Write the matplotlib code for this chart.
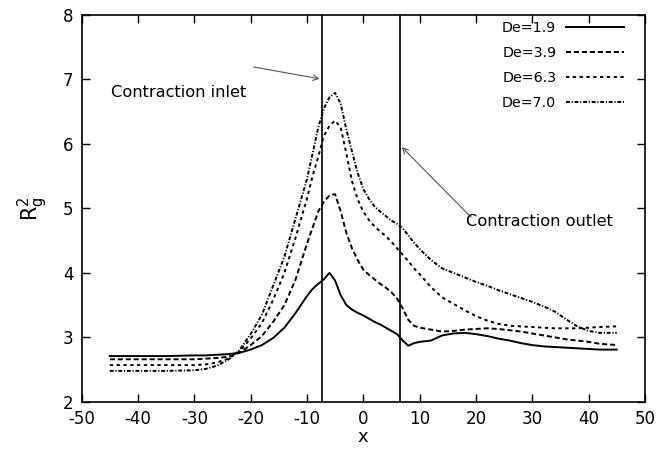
import matplotlib
matplotlib.use("Agg")
import matplotlib.pyplot as plt

plt.rcParams['font.family'] = ['DejaVu Sans']
plt.rcParams['mathtext.default'] = 'regular'
plt.rcParams['axes.unicode_minus'] = False

x = [-45, -40, -35, -30, -28, -26, -24, -22, -20, -18, -16, -14, -12, -10, -9, -8, -7,
     -6, -5, -4, -3, -2, -1, 0, 1, 2, 3, 4, 5, 6, 7, 8, 9, 10, 12, 14, 16, 18, 20,
     22, 24, 26, 28, 30, 32, 34, 36, 38, 40, 42, 45]

de19 = [2.71, 2.71, 2.71, 2.72, 2.72, 2.73, 2.74, 2.76, 2.81, 2.88, 2.99, 3.15, 3.38, 3.64, 3.75, 3.83, 3.90,
        4.00, 3.88, 3.65, 3.50, 3.43, 3.38, 3.34, 3.29, 3.24, 3.20, 3.15, 3.10, 3.05, 2.95, 2.87, 2.91, 2.93, 2.95, 3.03, 3.06, 3.07, 3.05,
        3.02, 2.98, 2.95, 2.91, 2.88, 2.86, 2.85, 2.84, 2.83, 2.82, 2.81, 2.81]

de39 = [2.66, 2.66, 2.66, 2.66, 2.67, 2.68, 2.70, 2.76, 2.88, 3.02, 3.24, 3.50, 3.90, 4.45, 4.70, 4.95, 5.10,
        5.20, 5.22, 4.95, 4.62, 4.38, 4.20, 4.05, 3.97, 3.90, 3.83, 3.77, 3.70, 3.60, 3.45, 3.27, 3.18, 3.15, 3.12, 3.09, 3.10, 3.12, 3.13,
        3.14, 3.13, 3.11, 3.09, 3.06, 3.03, 3.00, 2.97, 2.95, 2.93, 2.90, 2.88]

de63 = [2.57, 2.57, 2.57, 2.57, 2.58, 2.61, 2.67, 2.78, 2.98, 3.22, 3.58, 4.00, 4.55, 5.15, 5.50, 5.80, 6.12,
        6.28, 6.36, 6.25, 5.85, 5.42, 5.14, 4.95, 4.82, 4.72, 4.64, 4.57, 4.48, 4.38, 4.28, 4.18, 4.07, 3.98, 3.78, 3.62, 3.52, 3.42, 3.33,
        3.26, 3.21, 3.18, 3.17, 3.16, 3.15, 3.14, 3.14, 3.14, 3.15, 3.16, 3.17]

de70 = [2.48, 2.48, 2.48, 2.49, 2.51, 2.56, 2.65, 2.80, 3.05, 3.35, 3.80, 4.25, 4.85, 5.45, 5.85, 6.25, 6.55,
        6.72, 6.79, 6.62, 6.22, 5.88, 5.55, 5.30, 5.15, 5.03, 4.95, 4.88, 4.81, 4.76, 4.69, 4.58, 4.47, 4.37, 4.20, 4.07, 4.00, 3.93, 3.86,
        3.80, 3.73, 3.67, 3.61, 3.55, 3.48, 3.40, 3.28, 3.17, 3.10, 3.07, 3.07]

labels = ['De=1.9', 'De=3.9', 'De=6.3', 'De=7.0']
inlet_x = -7.25
outlet_x = 6.5

fig = plt.figure(figsize=(6.69, 4.49), dpi=100)
ax = fig.add_axes([0.122, 0.105, 0.842, 0.862])

lw = 1.4
ax.plot(x, de19, color='black', lw=lw, label=labels[0])
ax.plot(x, de39, color='black', lw=lw, dashes=(2.6, 1.5), label=labels[1])
ax.plot(x, de63, color='black', lw=lw, dashes=(1.7, 1.8), label=labels[2])
ax.plot(x, de70, color='black', lw=lw, dashes=(2.0, 0.9, 0.6, 0.9), label=labels[3])

ax.axvline(inlet_x, color='black', lw=1.2)
ax.axvline(outlet_x, color='black', lw=1.2)

ax.annotate('', xy=(inlet_x, 7.0), xytext=(-20, 7.2),
            arrowprops=dict(arrowstyle='->', color='#555555', lw=0.8))
ax.text(-44.85, 6.79, 'Contraction inlet', fontsize=11.7, va='center', ha='left')
ax.annotate('', xy=(outlet_x, 5.98), xytext=(19.5, 4.83),
            arrowprops=dict(arrowstyle='->', color='#555555', lw=0.8))
ax.text(18.2, 4.80, 'Contraction outlet', fontsize=11.7, va='center', ha='left')

ax.set_xlim(-50, 50)
ax.set_ylim(2, 8)
ax.set_xticks(range(-50, 51, 10))
ax.set_yticks(range(2, 9))
ax.tick_params(direction='in', top=True, right=True, length=6, width=1, labelsize=12)
ax.tick_params(axis='x', pad=6)
ax.tick_params(axis='y', pad=6)
for s in ax.spines.values():
    s.set_linewidth(1.2)

ax.set_xlabel('x', fontsize=13, labelpad=0)
ax.set_ylabel(r'$R_g^{2}$', fontsize=15, labelpad=9)

ax.legend(loc='upper right', bbox_to_anchor=(0.962, 0.985), frameon=False, markerfirst=False,
          fontsize=10.3, handlelength=4.0, handletextpad=0.7, labelspacing=0.78,
          borderaxespad=0.0, borderpad=0.0)

fig.savefig('out.png', dpi=100)
